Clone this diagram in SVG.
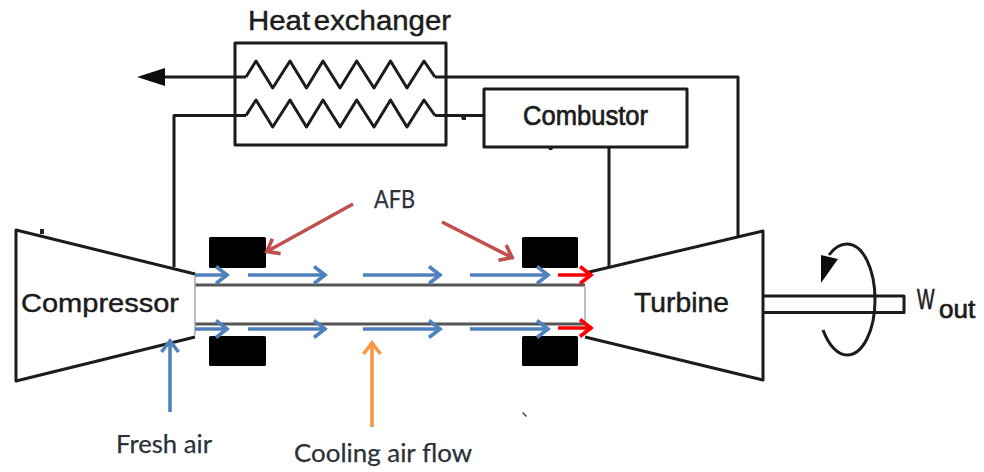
<svg xmlns="http://www.w3.org/2000/svg" width="984" height="472" viewBox="0 0 984 472">
<style>
.ln{fill:none;stroke:#1a1a1a;stroke-width:3;stroke-linejoin:round}
.box{fill:#fff;stroke:#1a1a1a;stroke-width:3;stroke-linejoin:round}
.bear{fill:#000}
.shaft{stroke:#555;stroke-width:3}
.blue{fill:none;stroke:#4f81bd;stroke-width:3.600;marker-end:url(#mb)}
.red{fill:none;stroke:#f00;stroke-width:3.600;marker-end:url(#mr)}
.rust{fill:none;stroke:#c0504d;stroke-width:3.600;marker-end:url(#mc)}
.org{fill:none;stroke:#f79646;stroke-width:3.600;marker-end:url(#mo)}
.a{font-family:"Liberation Sans",Arial,sans-serif;fill:#1c1c1c;stroke:#1c1c1c;stroke-width:.45}
.c{font-family:Lato,"Open Sans",sans-serif;fill:#2c3038;stroke:#2c3038;stroke-width:.25}
</style>
<defs>
<filter id="soft" x="-5%" y="-5%" width="110%" height="110%"><feGaussianBlur stdDeviation="0.45"/></filter>
<marker id="mb" markerUnits="userSpaceOnUse" markerWidth="20" markerHeight="24" refX="14" refY="12" orient="auto"><path d="M2 3.500L13 12 2 20.500" fill="none" stroke="#4f81bd" stroke-width="3.600"/></marker>
<marker id="mr" markerUnits="userSpaceOnUse" markerWidth="20" markerHeight="24" refX="14" refY="12" orient="auto"><path d="M2 3.500L13 12 2 20.500" fill="none" stroke="#f00" stroke-width="3.600"/></marker>
<marker id="mc" markerUnits="userSpaceOnUse" markerWidth="20" markerHeight="24" refX="14" refY="12" orient="auto"><path d="M2 3.500L13 12 2 20.500" fill="none" stroke="#c0504d" stroke-width="3.600"/></marker>
<marker id="mo" markerUnits="userSpaceOnUse" markerWidth="20" markerHeight="24" refX="14" refY="12" orient="auto"><path d="M2 3.500L13 12 2 20.500" fill="none" stroke="#f79646" stroke-width="3.600"/></marker>
</defs>
<rect width="984" height="472" fill="#fff"/>
<g id="connectors" filter="url(#soft)">
<path class="ln" d="M246 77H163"/>
<path d="M137 77L165 68V86Z" fill="#111"/>
<path class="ln" d="M435 77H738V236"/>
<path class="ln" d="M246 115.500H174V267"/>
<path class="ln" d="M435 115.500H483"/>
<path class="ln" d="M609 147V267"/>
<path d="M461 117h5v3h-4zM548 147h6l-2 3h-3z" fill="#222"/>
<path d="M523 412l4 4-1 1-4-4z" fill="#444"/>
</g>
<g id="heat-exchanger" filter="url(#soft)">
<rect class="box" x="235" y="43" width="211" height="102" style="fill:none"/>
<path class="ln" d="M246 77L256 61 272.700 88 290 61 306.500 88 323 61 340 88 356.700 61 374 88 390.500 61 407 88 424 61 435 77"/>
<path class="ln" d="M246 115.500L256 100 272.700 127 290 100 306.500 127 323 100 340 127 356.700 100 374 127 390.500 100 407 127 424 100 435 115.500"/>
</g>
<text class="a" x="248" y="30" font-size="27" textLength="203" lengthAdjust="spacingAndGlyphs" word-spacing="-4">Heat exchanger</text>
<g id="combustor">
<rect class="box" x="484" y="89" width="203" height="58" filter="url(#soft)"/>
<text class="a" x="523" y="125" font-size="27" textLength="125" lengthAdjust="spacingAndGlyphs" style="stroke-width:.7">Combustor</text>
</g>
<g id="shaft" filter="url(#soft)">
<path class="shaft" d="M195 285H585M195 324H585"/>
</g>
<g id="compressor">
<path class="box" d="M195 337L16 381V230L195 274" filter="url(#soft)"/>
<path d="M195 276V335" stroke="#aaa" stroke-width="1.500"/>
<path d="M40 229h4v5h-4z" fill="#222"/>
<text class="a" x="21" y="312" font-size="26.500" textLength="158" lengthAdjust="spacingAndGlyphs">Compressor</text>
</g>
<g id="turbine">
<path d="M585 273L763 231V380L585 337" class="box" filter="url(#soft)"/>
<path d="M585 287V335" stroke="#aaa" stroke-width="1.500"/>
<text class="a" x="634" y="312" font-size="27" textLength="95" lengthAdjust="spacingAndGlyphs">Turbine</text>
</g>
<g id="bearings">
<rect class="bear" x="209" y="237" width="57" height="31" rx="1.500"/>
<rect class="bear" x="209" y="336" width="57" height="30" rx="1.500"/>
<rect class="bear" x="522" y="237" width="56" height="31" rx="1.500"/>
<rect class="bear" x="522" y="336" width="56" height="30" rx="1.500"/>
</g>
<g id="output-shaft" filter="url(#soft)">
<path class="ln" d="M763 296H904V312.500H763"/>
<path class="ln" d="M823 330C829 346 838 355 847 355C863 355 875 330 875 300C875 269 863 244 847 244C840 244 834 248 829 255"/>
<path d="M821 255L838 259 821 283Z" fill="#111"/>
</g>
<g id="flow-arrows" filter="url(#soft)">
<path class="blue" d="M195 275H228"/><path class="blue" d="M248 275H326"/><path class="blue" d="M363 275H441"/><path class="blue" d="M470 275H549"/>
<path class="blue" d="M195 329H228"/><path class="blue" d="M248 329H326"/><path class="blue" d="M363 329H441"/><path class="blue" d="M470 329H549"/>
<path class="red" d="M558 275H592"/><path class="red" d="M558 328H592"/>
<path class="blue" d="M170 412V340"/>
<path class="org" d="M372 427V342"/>
<path class="rust" d="M353 204L266 252"/>
<path class="rust" d="M442 222L513 258"/>
</g>
<text class="c" x="374" y="208" font-size="25" textLength="41" lengthAdjust="spacingAndGlyphs">AFB</text>
<text class="c" x="116" y="453" font-size="24.500" textLength="96" lengthAdjust="spacingAndGlyphs">Fresh air</text>
<text class="c" x="294" y="462" font-size="24.500" textLength="178" lengthAdjust="spacingAndGlyphs">Cooling air flow</text>
<g id="work-label">
<text class="a" transform="translate(917 309) scale(.64 1)" font-size="29" style="stroke-width:.7">W</text>
<text class="a" x="939" y="318" font-size="26" style="stroke-width:.7">out</text>
</g>
</svg>
